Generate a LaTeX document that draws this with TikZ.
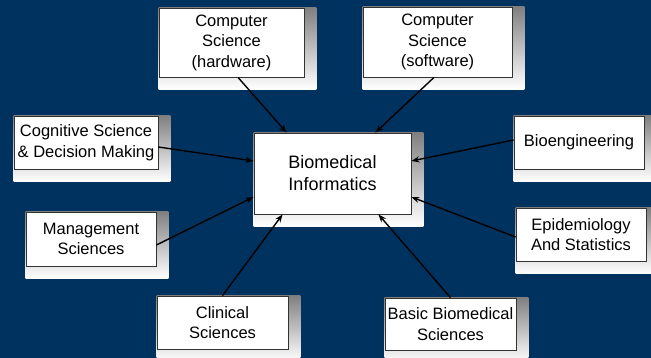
\documentclass[tikz,border=0pt]{standalone}
\usepackage{fontspec}
\setmainfont{Liberation Sans}
\usetikzlibrary{arrows.meta,backgrounds}

\definecolor{navy}{RGB}{0,50,96}
\definecolor{shade}{RGB}{243,243,236}

\tikzset{
    field/.style={draw=black!80, line width=0.8pt, fill=white, align=center,
        inner sep=0pt, font=\fontsize{16.5pt}{20.5pt}\selectfont},
    hub/.style={field, font=\fontsize{18pt}{22pt}\selectfont},
    feed/.style={line width=1.4pt, -{Stealth[length=8pt,width=6pt]}}
}

\begin{document}
\begin{tikzpicture}[x=1pt,y=-1pt]
    \def\off{12}  % shadow offset

    % Canvas
    \useasboundingbox (0,0) rectangle (651,358);

    % Central topic
    \node[hub, minimum width=157pt, minimum height=81pt] (bmi) at (332.5,173.5)
        {Biomedical\\Informatics};

    % Surrounding disciplines
    \node[field, minimum width=145pt, minimum height=69pt] (hw) at (231.5,42.5)
        {Computer\\Science\\(hardware)};
    \node[field, minimum width=149pt, minimum height=70pt] (sw) at (437.5,42)
        {Computer\\Science\\(software)};
    \node[field, minimum width=144pt, minimum height=53pt] (cog) at (86,142.5)
        {Cognitive Science\\\& Decision Making};
    \node[field, minimum width=130pt, minimum height=54pt] (mgmt) at (91,239)
        {Management\\Sciences};
    \node[field, minimum width=130pt, minimum height=53pt] (bio) at (579,142.5)
        {Bioengineering};
    \node[field, minimum width=130pt, minimum height=53pt] (epi) at (581,234.5)
        {Epidemiology\\And Statistics};
    \node[field, minimum width=131pt, minimum height=53pt] (clin) at (222.5,322.5)
        {Clinical\\Sciences};
    \node[field, minimum width=131pt, minimum height=52pt] (basic) at (450.5,324)
        {Basic Biomedical\\Sciences};

    % Background and box shadows
    \begin{scope}[on background layer]
        \fill[navy] (0,0) rectangle (651,358);
        \foreach \n in {bmi,hw,sw,cog,mgmt,bio,epi,clin,basic}
            \fill[shade] (\n.north west) rectangle ([xshift=\off pt,yshift=-\off pt]\n.south east);
    \end{scope}

    % Arrows into the centre
    \draw[feed] ([xshift=6.5pt]hw.south) -- ([xshift=33pt]bmi.north west);
    \draw[feed] ([xshift=-3.5pt]sw.south) -- ([xshift=-36pt]bmi.north east);
    \draw[feed] ([yshift=-4.5pt]cog.east) -- ([yshift=12.5pt]bmi.west);
    \draw[feed] ([yshift=-6pt]mgmt.east) -- ([yshift=-23.5pt]bmi.west);
    \draw[feed] ([yshift=2.5pt]bio.west) -- ([yshift=12.5pt]bmi.east);
    \draw[feed] ([yshift=-2.5pt]epi.west) -- ([yshift=-23.5pt]bmi.east);
    \draw[feed] (clin.north) -- ([xshift=29pt]bmi.south west);
    \draw[feed] (basic.north) -- ([xshift=-33pt]bmi.south east);

\end{tikzpicture}
\end{document}
